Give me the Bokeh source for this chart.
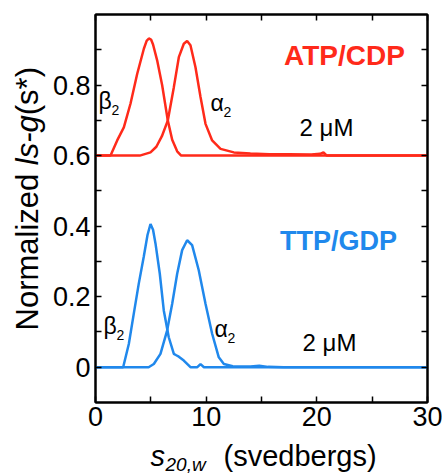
import math
from bokeh.plotting import figure
from bokeh.layouts import column, row
from bokeh.models import (Range1d, FixedTicker, LinearAxis, Label, NumeralTickFormatter,
                          CustomJSTickFormatter)
from bokeh.embed import file_html
from bokeh.resources import INLINE

# ---------------- data ----------------
# ATP/CDP (offset baseline 0.6)
atp_beta_s = [0, 1.36, 1.96, 2.56, 3.16, 3.77, 4.37, 4.62, 4.82, 5.02, 5.2, 5.57, 6.02, 6.53, 6.93, 7.38, 7.74, 30]
atp_beta_y = [0.6, 0.6, 0.643, 0.680, 0.747, 0.832, 0.903, 0.925, 0.932, 0.929, 0.915, 0.870, 0.800, 0.700, 0.645, 0.612, 0.6, 0.6]
atp_alpha_s = [0, 4.0, 4.97, 5.5, 6.0, 6.53, 7.08, 7.53, 7.98, 8.28, 8.58, 9.03, 9.49, 9.94, 10.54, 11.3, 12.5, 14.0, 15.7, 17.5, 19.5, 20.3, 20.6, 20.9, 30]
atp_alpha_y = [0.6, 0.6, 0.609, 0.625, 0.655, 0.699, 0.794, 0.879, 0.917, 0.925, 0.913, 0.851, 0.766, 0.690, 0.643, 0.619, 0.609, 0.606, 0.604, 0.604, 0.603, 0.605, 0.609, 0.6, 0.6]
# TTP/GDP (baseline 0)
ttp_beta_s = [0, 2.5, 3.01, 3.46, 3.91, 4.36, 4.7, 4.97, 5.2, 5.42, 5.81, 6.17, 6.62, 7.08, 7.3, 7.53, 7.98, 8.58, 9.2, 9.49, 9.8, 30]
ttp_beta_y = [0, 0, 0.066, 0.152, 0.237, 0.313, 0.375, 0.406, 0.390, 0.351, 0.265, 0.161, 0.085, 0.038, 0.034, 0.030, 0.019, 0, 0, 0.009, 0, 0]
ttp_alpha_s = [0, 4.8, 5.27, 5.87, 6.47, 6.93, 7.38, 7.83, 8.28, 8.73, 9.33, 9.94, 10.54, 11.14, 11.6, 12.4, 14.0, 14.8, 15.6, 17, 30]
ttp_alpha_y = [0, 0, 0.009, 0.038, 0.104, 0.180, 0.265, 0.332, 0.360, 0.346, 0.275, 0.180, 0.095, 0.028, 0.009, 0.003, 0.002, 0.004, 0.001, 0, 0]

x_major = [0, 10, 20, 30]
x_minor = [5, 15, 25]
y_major = [0, 0.2, 0.4, 0.6, 0.8]
y_minor = [0.1, 0.3, 0.5, 0.7, 0.9]

RED = "#FF2A1A"
BLUE = "#2088EC"
FONT = "Liberation Sans"

# ---------------- layout geometry (pixels) ----------------
W, H = 442, 473
YLAB_W = 46           # strip holding the rotated y title
XLAB_H = 30           # strip holding the x title
FX0, FX1, FY0, FY1 = 95, 427, 14, 402   # frame in page pixels
XR = (0, 30)
YR = (-0.1, 1.0)
MID = 0.3465          # baseline -> middle of text box, in font sizes

MAIN_W = W - YLAB_W
MAIN_H = H - XLAB_H

p = figure(width=MAIN_W, height=MAIN_H, x_range=Range1d(*XR), y_range=Range1d(*YR),
           output_backend="svg", toolbar_location=None, frame_align=False, title=None,
           min_border_left=FX0 - YLAB_W, min_border_right=W - FX1,
           min_border_top=FY0, min_border_bottom=MAIN_H - FY1,
           x_axis_location=None, y_axis_location=None, margin=0)
p.grid.visible = False
p.outline_line_color = "black"
p.outline_line_width = 2
p.background_fill_color = "white"
p.border_fill_color = "white"


def dx(sx):
    return XR[0] + (sx - FX0) / (FX1 - FX0) * (XR[1] - XR[0])


def dy(sy):
    return YR[1] - (sy - FY0) / (FY1 - FY0) * (YR[1] - YR[0])


def make_axis(ticks, minor, show_labels):
    ax = LinearAxis(ticker=FixedTicker(ticks=ticks, minor_ticks=minor))
    ax.axis_line_width = 2
    ax.axis_line_color = "black"
    ax.major_tick_in = 6
    ax.major_tick_out = 0
    ax.minor_tick_in = 6
    ax.minor_tick_out = 0
    ax.major_tick_line_width = 1.5
    ax.minor_tick_line_width = 1.5
    if show_labels:
        ax.major_label_text_font = FONT
        ax.major_label_text_font_size = "27px"
        ax.major_label_text_color = "black"
        ax.formatter = NumeralTickFormatter(format="0.[0]")
    else:
        ax.formatter = CustomJSTickFormatter(code="return ''")
        ax.major_label_text_font_size = "1px"
        ax.major_label_standoff = 0
    return ax


xb = make_axis(x_major, x_minor, True)
xb.major_label_standoff = 4
p.add_layout(xb, "below")
yl = make_axis(y_major, y_minor, True)
yl.major_label_standoff = 5
p.add_layout(yl, "left")
p.add_layout(make_axis(x_major, x_minor, False), "above")
p.add_layout(make_axis(y_major, y_minor, False), "right")

# curves
lw = 2.5
p.line(atp_beta_s, atp_beta_y, line_color=RED, line_width=lw)
p.line(atp_alpha_s, atp_alpha_y, line_color=RED, line_width=lw)
p.line(ttp_beta_s, ttp_beta_y, line_color=BLUE, line_width=lw)
p.line(ttp_alpha_s, ttp_alpha_y, line_color=BLUE, line_width=lw)


def lab(text, sx, base_y, size, color="black", style="normal", align="left"):
    """Place text so that its baseline sits at page pixel base_y."""
    p.add_layout(Label(x=dx(sx), y=dy(base_y - MID * size), text=text, text_font=FONT,
                       text_font_size=f"{size}px", text_color=color,
                       text_font_style=style, text_align=align,
                       text_baseline="middle"))


# condition titles
lab("ATP/CDP", 344, 65, 28, RED, "bold", "center")
lab("TTP/GDP", 338, 250, 27, BLUE, "bold", "center")
# concentration labels
lab("2 \u03bcM", 326, 135, 24, align="center")
lab("2 \u03bcM", 329, 350, 24, align="center")
# species labels
for (gx, gy, ch) in [(98, 108, "\u03b2"), (210, 110, "\u03b1"),
                     (103, 333, "\u03b2"), (214, 336, "\u03b1")]:
    lab(ch, gx, gy, 23)
    lab("2", gx + 13, gy + 6, 14)


# ---------------- title strips ----------------
def strip(w, h):
    f = figure(width=w, height=h, x_range=Range1d(0, w), y_range=Range1d(0, h),
               output_backend="svg", toolbar_location=None, frame_align=False,
               title=None, margin=0,
               min_border_left=0, min_border_right=0, min_border_top=0,
               min_border_bottom=0, x_axis_location=None, y_axis_location=None)
    f.grid.visible = False
    f.outline_line_color = None
    f.background_fill_color = "white"
    f.border_fill_color = "white"
    return f


# y title strip spans the full page height (rotated text, baseline at x=38)
ylab = strip(YLAB_W, H)
fs = 31
w1 = 5.334 * fs
w2 = 1.611 * fs
cx = 38 - MID * fs
by0 = 330


def ylab_piece(text, start_y, style="normal"):
    ylab.add_layout(Label(x=cx, y=H - start_y, text=text, text_font=FONT,
                          text_font_size=f"{fs}px", text_color="black",
                          text_font_style=style, text_align="left",
                          text_baseline="middle", angle=math.pi / 2))


ylab_piece("Normalized ", by0)
ylab_piece("ls-g", by0 - w1, "italic")
ylab_piece("(s*)", by0 - w1 - w2)

# x title strip sits under the main plot
xlab = strip(MAIN_W, XLAB_H)


def xlab_piece(text, sx, base_y, size, style="normal"):
    xlab.add_layout(Label(x=sx - YLAB_W, y=XLAB_H - (base_y - MID * size - MAIN_H),
                          text=text, text_font=FONT, text_font_size=f"{size}px",
                          text_color="black", text_font_style=style,
                          text_align="left", text_baseline="middle"))


xlab_piece("s", 150, 466, 29, "italic")
xlab_piece("20,w", 165, 471, 19, "italic")
xlab_piece("(svedbergs)", 223, 466, 29)

layout = row(ylab, column(p, xlab, spacing=0, margin=0), spacing=0, margin=0)

open("out.html", "w").write(file_html(layout, INLINE))
